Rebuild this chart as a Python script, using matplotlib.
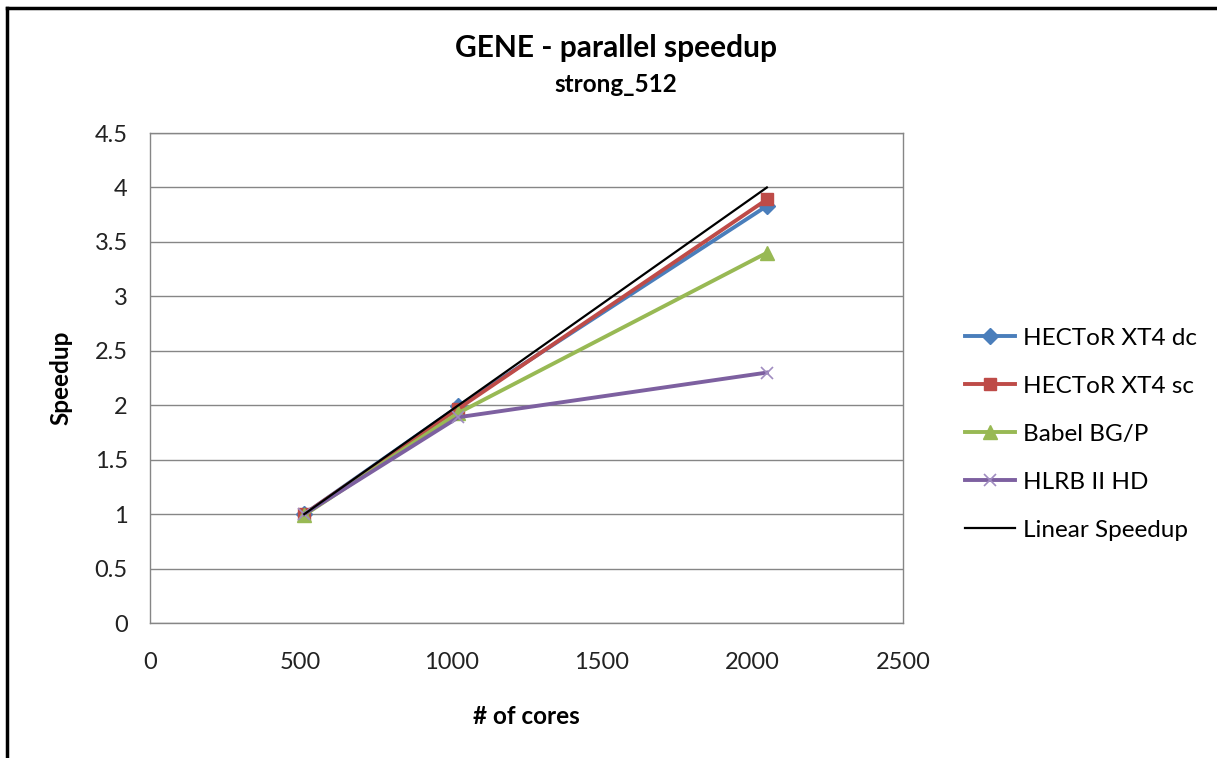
import matplotlib.pyplot as plt
import matplotlib.lines as mlines

cores = [512, 1024, 2048]
hector_dc = [1.0, 1.99, 3.83]
hector_sc = [1.0, 1.97, 3.89]
babel = [0.99, 1.93, 3.40]
hlrb = [1.0, 1.89, 2.30]
linear = [1.0, 2.0, 4.0]

series_names = ['HECToR XT4 dc', 'HECToR XT4 sc', 'Babel BG/P', 'HLRB II HD', 'Linear Speedup']
x_ticks = [0, 500, 1000, 1500, 2000, 2500]
y_ticks = [0, 0.5, 1, 1.5, 2, 2.5, 3, 3.5, 4, 4.5]


def main():
    plt.rcParams['font.family'] = ['Lato', 'DejaVu Sans']
    fig = plt.figure(figsize=(12.17, 7.58), dpi=100)
    fig.patch.set_facecolor('white')
    ax = fig.add_axes([0.1233, 0.1781, 0.6187, 0.6464])

    grey = '#868686'
    ax.plot(cores, hector_dc, color='#4a7ebb', lw=2.8, marker='D', ms=8, label=series_names[0])
    ax.plot(cores, hector_sc, color='#be4b48', lw=2.8, marker='s', ms=9, label=series_names[1])
    ax.plot(cores, babel, color='#98b954', lw=2.8, marker='^', ms=10, label=series_names[2])
    ax.plot(cores, hlrb, color='#7d60a0', lw=2.8, marker='x', ms=9, mew=1.2,
            markeredgecolor='#a08cc0', label=series_names[3])
    ax.plot(cores, linear, color='black', lw=1.6, label=series_names[4])

    ax.set_xlim(0, 2500)
    ax.set_ylim(0, 4.5)
    ax.set_xticks(x_ticks)
    ax.set_yticks(y_ticks)
    ax.set_yticklabels([('%g' % v) for v in y_ticks])
    ax.tick_params(length=0, labelsize=17, colors='#222222')
    ax.tick_params(axis='y', pad=16)
    ax.tick_params(axis='x', pad=21)
    ax.grid(True, axis='y', color=grey, lw=1)
    ax.set_axisbelow(True)
    for s in ax.spines.values():
        s.set_color(grey)
        s.set_linewidth(1)

    ax.set_xlabel('# of cores', fontsize=17.5, fontweight='bold', labelpad=23)
    ax.set_ylabel('Speedup', fontsize=17.5, fontweight='bold', labelpad=16)

    fig.text(0.506, 0.937, 'GENE - parallel speedup', ha='center', va='center',
             fontsize=21.5, fontweight='bold')
    fig.text(0.506, 0.888, 'strong_512', ha='center', va='center',
             fontsize=17.5, fontweight='bold')

    ax.legend(loc='center left', bbox_to_anchor=(1.082, 0.385), frameon=False,
              fontsize=17.5, labelspacing=1.11, handlelength=2.06, handletextpad=0.33,
              borderpad=0, borderaxespad=0)

    # outer frame (left and top only, as in the source image)
    fig.add_artist(mlines.Line2D([0.0057, 0.0057], [0.0, 0.99], color='black', lw=2.5,
                                 transform=fig.transFigure))
    fig.add_artist(mlines.Line2D([0.0057, 1.0], [0.99, 0.99], color='black', lw=2.5,
                                 transform=fig.transFigure))

    plt.savefig('out.png', dpi=100)


if __name__ == "__main__":
    main()
